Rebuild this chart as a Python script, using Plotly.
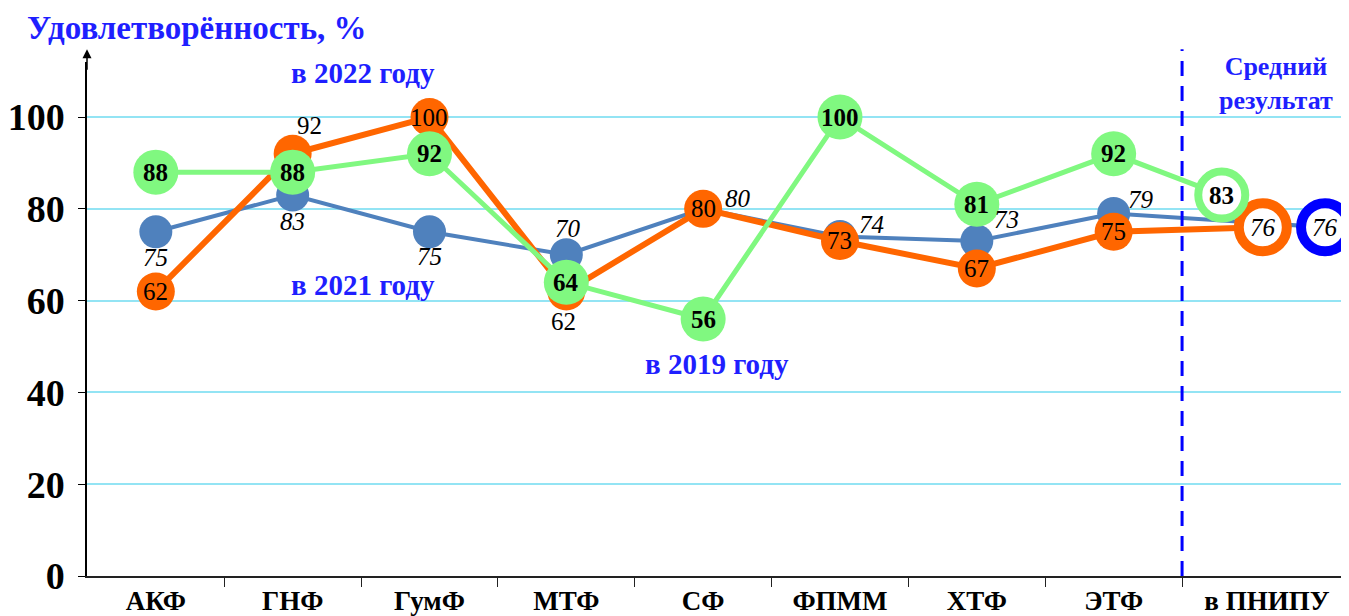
import plotly.graph_objects as go

# ---------------- data ----------------
categories = ["АКФ", "ГНФ", "ГумФ", "МТФ", "СФ", "ФПММ", "ХТФ", "ЭТФ", "в ПНИПУ"]
vals_2021 = [75, 83, 75, 70, 80, 74, 73, 79, 76]
vals_2022 = [62, 92, 100, 62, 80, 73, 67, 75, 76]
vals_2019 = [88, 88, 92, 64, 56, 100, 81, 92, 83]
y_ticks = [0, 20, 40, 60, 80, 100]

# ---------------- styles ----------------
SERIF = "Liberation Serif, Times New Roman, serif"
BLUE_TXT = "#1f1fff"
C2021, C2022, C2019 = "#4f81bd", "#ff6600", "#80f880"
RING2021 = "#0000ff"
# horizontal dodge of the average ("в ПНИПУ") marker per series
DODGE = {"2019": -0.21, "2022": 0.09, "2021": 0.545}
# label offsets in pixels (xshift, yshift) per point
SHIFT_2021 = [(0, -26), (0, -26), (0, -25), (2, 26), (35, 10), (32, 12),
              (30, 21), (27, 14), (0, 0)]
SHIFT_2022 = [(0, 0), (17, 28), (0, 0), (-3, -30), (0, 0), (0, 0), (0, 0),
              (0, 0), (0, 0)]
SHIFT_2019 = [(0, 0)] * 9

n = len(categories)
idx = list(range(n))


def xs(key):
    return idx[:-1] + [idx[-1] + DODGE[key]]


def series(key, vals, color, ring_color, size, lw, ring_size, ring_lw):
    k = len(vals)
    return go.Scatter(
        x=xs(key), y=vals, mode="lines+markers",
        line=dict(color=color, width=lw),
        marker=dict(
            size=[size] * (k - 1) + [ring_size],
            color=[color] * (k - 1) + ["white"],
            line=dict(color=[color] * (k - 1) + [ring_color],
                      width=[0] * (k - 1) + [ring_lw]),
            opacity=1,
        ),
        cliponaxis=False, hoverinfo="skip", showlegend=False,
    )


def labels(key, vals, shifts, bold, styles, size=25):
    out = []
    for x, v, (dx, dy), st in zip(xs(key), vals, shifts, styles):
        txt = "<b>%d</b>" % v if bold else str(v)
        out.append(dict(text=txt, x=x, y=v, xref="x", yref="y",
                        xshift=dx, yshift=dy, showarrow=False,
                        font=dict(family=SERIF, size=size, color="black",
                                  style=st)))
    return out


fig = go.Figure()
fig.add_trace(series("2021", vals_2021, C2021, RING2021, 33, 4, 48, 10))
fig.add_trace(series("2022", vals_2022, C2022, C2022, 38, 6, 48, 10))
fig.add_trace(series("2019", vals_2019, C2019, C2019, 45, 5, 47, 8))

# dashed separator before the average
fig.add_shape(type="line", xref="x", yref="paper", x0=7.5, x1=7.5,
              y0=0, y1=1.025, layer="above",
              line=dict(color="#0000ff", width=3, dash="15px,10px"))

ann = []
ann += labels("2021", vals_2021, SHIFT_2021, False, ["italic"] * n)
ann += labels("2022", vals_2022, SHIFT_2022, False,
              ["normal"] * (n - 1) + ["italic"])
ann += labels("2019", vals_2019, SHIFT_2019, True, ["normal"] * n)

ann.append(dict(text="<b>Удовлетворённость, %</b>", xref="paper", yref="paper",
                x=-0.049, y=1.066, xanchor="left", yanchor="middle",
                showarrow=False, font=dict(family=SERIF, size=33, color=BLUE_TXT)))
for txt, x, y in [("в 2022 году", 1.515, 109.6), ("в 2021 году", 1.515, 63.4),
                  ("в 2019 году", 4.10, 46.1)]:
    ann.append(dict(text="<b>%s</b>" % txt, x=x, y=y, xref="x", yref="y",
                    showarrow=False,
                    font=dict(family=SERIF, size=29, color=BLUE_TXT)))
ann.append(dict(text="<b>Средний<br>результат</b>", x=8.19, y=107.4,
                xref="x", yref="y", showarrow=False,
                font=dict(family=SERIF, size=26, color=BLUE_TXT)))
# arrow on top of the y axis
ann.append(dict(text="", x=-0.503, y=1.025, xref="x", yref="paper",
                ax=0, ay=22, showarrow=True, arrowhead=2, arrowsize=1.2,
                arrowwidth=1.5, arrowcolor="black"))

# the page body adds an 8px margin, so the figure is sized to compensate
fig.update_layout(
    width=1341, height=608,
    margin=dict(l=75, r=0, t=54, b=37),
    paper_bgcolor="white", plot_bgcolor="white",
    annotations=ann,
    xaxis=dict(
        range=[-0.503, 8.72],
        tickmode="array", tickvals=idx[:-1] + [idx[-1] + 0.12],
        ticktext=["<b>%s</b>" % c for c in categories], ticks="",
        tickfont=dict(family=SERIF, size=27, color="black"),
        showgrid=False, zeroline=False,
        showline=True, linecolor="#222222", linewidth=2,
        minor=dict(tickmode="array", tickvals=[i + 0.5 for i in idx[:-1]],
                   ticks="outside", ticklen=9, tickcolor="#222222",
                   tickwidth=1, showgrid=False),
    ),
    yaxis=dict(
        range=[0, 112], tickmode="array", tickvals=y_ticks,
        ticktext=["<b>%d</b>" % t for t in y_ticks],
        ticks="outside", ticklen=7, tickcolor="black", tickwidth=1,
        tickfont=dict(family=SERIF, size=38, color="black"),
        ticklabelstandoff=6,
        showgrid=True, gridcolor="#93e4f4", gridwidth=2,
        zeroline=False, showline=True, linecolor="black", linewidth=1.5,
    ),
)

fig.write_html("out.html")
